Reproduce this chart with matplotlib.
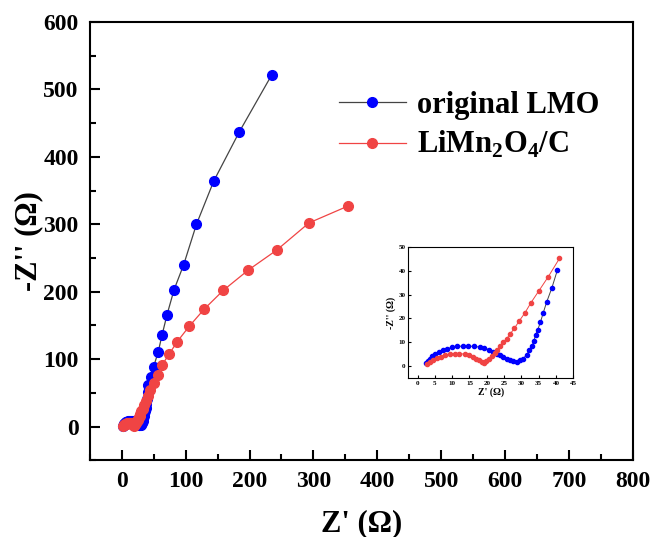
import matplotlib
matplotlib.use('Agg')
import matplotlib.pyplot as plt
from matplotlib.ticker import MultipleLocator

plt.rcParams['font.family'] = ['Liberation Serif', 'DejaVu Serif']
plt.rcParams['font.weight'] = 'bold'
plt.rcParams['mathtext.fontset'] = 'custom'
plt.rcParams['mathtext.rm'] = 'Liberation Serif:bold'
plt.rcParams['mathtext.bf'] = 'Liberation Serif:bold'

# original LMO: semicircle region + high-Z tail
lmo_x = [2.5, 2.9, 3.5, 4.2, 5.1, 6.2, 7.3, 8.6, 10.0, 11.5, 13.1, 14.7, 16.3, 17.9,
         19.3, 20.7, 21.9, 22.9, 23.8, 24.8, 25.8, 26.7, 27.7, 28.7, 29.6, 30.6, 31.5,
         32.3, 33.0, 33.6, 34.1, 34.7, 35.5, 36.3, 37.3, 38.8, 40.4, 40.9,
         41, 46, 50, 57, 63, 71, 82, 97, 117, 144, 184, 235]
lmo_y = [1.2, 2.2, 3.2, 4.2, 5.0, 6.0, 6.6, 7.3, 7.9, 8.3, 8.4, 8.4, 8.3, 8.0,
         7.6, 6.9, 6.0, 5.3, 4.6, 3.9, 3.2, 2.5, 2.1, 1.9, 2.4, 3.2, 4.8,
         6.6, 8.3, 10.4, 13.2, 15.2, 18.4, 22.3, 26.9, 32.8, 40.3, 50.5,
         61, 74, 89, 110, 135, 166, 203, 240, 300, 364, 437, 522]

# LiMn2O4/C
c_x = [2.8, 3.5, 4.4, 5.5, 6.7, 8.0, 9.3, 10.7, 12.1, 13.6, 14.8, 16.0, 16.9, 17.8,
       18.6, 19.2, 19.9, 20.7, 21.5, 22.3, 23.1, 23.9, 24.8, 25.8, 26.8, 28.0, 29.3,
       31.0, 32.8, 35.1, 37.8, 41.0, 45,
       50, 57, 63, 74, 87, 106, 129, 159, 198, 243, 293, 354]
c_y = [1.1, 1.9, 2.6, 3.3, 4.0, 4.6, 5.0, 5.3, 5.3, 5.0, 4.6, 3.9, 3.2, 2.5,
       1.8, 1.4, 2.1, 3.2, 4.4, 5.7, 6.9, 8.4, 10.0, 11.6, 13.6, 15.9, 18.8,
       22.3, 26.7, 31.7, 37.6, 45.2, 54,
       64, 77, 91, 107, 126, 149, 174, 202, 232, 262, 302, 327]

inset_n = 37  # points shown in the inset (x <= ~41)
inset_nc = 32

blue = '#0000FF'
red = '#F04444'

fig = plt.figure(figsize=(6.5, 5.37), dpi=100)
ax = fig.add_axes([0.138, 0.143, 0.836, 0.816])

ax.plot(lmo_x, lmo_y, '-o', color='#444444', lw=0.9, mfc=blue, mec=blue, ms=7,
        label='original LMO')
ax.plot(c_x, c_y, '-o', color=red, lw=0.9, mfc=red, mec=red, ms=7,
        label=r'LiMn$_\mathbf{2}$O$_\mathbf{4}$/C')

ax.set_xlim(-50, 800)
ax.set_ylim(-50, 600)
ax.xaxis.set_major_locator(MultipleLocator(100))
ax.xaxis.set_minor_locator(MultipleLocator(50))
ax.yaxis.set_major_locator(MultipleLocator(100))
ax.yaxis.set_minor_locator(MultipleLocator(50))
ax.tick_params(which='both', direction='in', width=1.5)
ax.tick_params(which='major', length=7, labelsize=17, pad=8)
ax.tick_params(which='minor', length=4)
for s in ax.spines.values():
    s.set_linewidth(1.5)
ax.set_xlabel("Z' (Ω)", fontsize=22, fontweight='bold', labelpad=12)
ax.set_ylabel("-Z'' (Ω)", fontsize=22, fontweight='bold', labelpad=0)

leg = ax.legend(loc='upper left', bbox_to_anchor=(0.43, 0.877), frameon=False,
                fontsize=22, handlelength=2.2, handletextpad=0.35, labelspacing=0.3,
                borderpad=0)

# inset
ins = fig.add_axes([0.628, 0.296, 0.254, 0.244])
ins.plot(lmo_x[:inset_n], lmo_y[:inset_n], '-o', color='#444444', lw=0.7, mfc=blue,
         mec=blue, ms=3)
ins.plot(c_x[:inset_nc], c_y[:inset_nc], '-o', color=red, lw=0.7, mfc=red, mec=red, ms=3)
ins.set_xlim(-2.7, 45)
ins.set_ylim(-5, 50)
ins.xaxis.set_major_locator(MultipleLocator(5))
ins.yaxis.set_major_locator(MultipleLocator(10))
ins.tick_params(direction='in', length=2, width=0.8, labelsize=5, pad=2)
ins.set_xlabel("Z' (Ω)", fontsize=7, fontweight='bold', labelpad=1)
ins.set_ylabel("-Z'' (Ω)", fontsize=7, fontweight='bold', labelpad=2)
for s in ins.spines.values():
    s.set_linewidth(0.8)

fig.savefig('out.png', dpi=100)
